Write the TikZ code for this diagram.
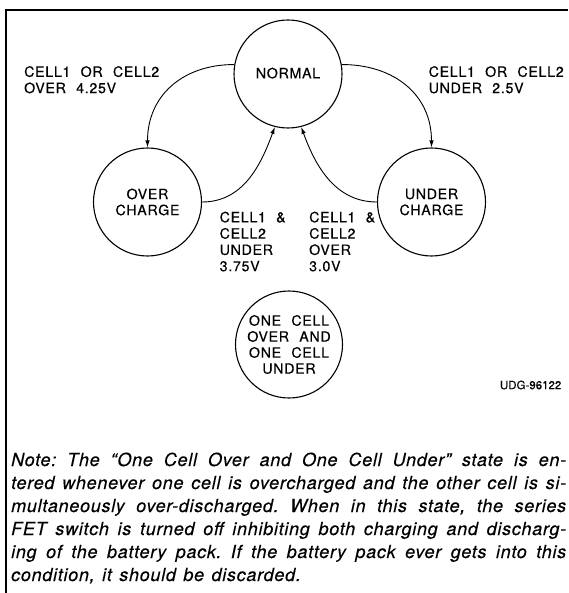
\documentclass[tikz,border=0pt]{standalone}
\usepackage{fontspec}
\setmainfont{TeX Gyre Heros}
\newfontfamily\labfont[LetterSpace=5,WordSpace=2.2,FakeBold=0.4]{TeX Gyre Heros}
\newfontfamily\notefont[LetterSpace=4,WordSpace=1.3,FakeBold=0.3]{TeX Gyre Heros}
\newfontfamily\udgfont[FakeBold=0.2]{TeX Gyre Heros}
\usetikzlibrary{arrows.meta}
\frenchspacing
\begin{document}
\begin{tikzpicture}[x=1pt,y=1pt,
  state/.style={circle,draw,line width=1.1pt,minimum size=108pt,inner sep=0pt,align=center,font=\labfont\fontsize{14.2}{16}\selectfont},
  lab/.style={align=left,inner sep=0pt,anchor=north west,font=\labfont\fontsize{14.2}{16.3}\selectfont},
  arr/.style={line width=0.9pt,-{Latex[length=7pt,width=4.5pt]}},
  noteline/.style={anchor=base west,inner sep=0pt,font=\notefont\itshape\fontsize{18}{23}\selectfont}]
\useasboundingbox (0,0) rectangle (568,-593);
\draw[line width=2.2pt] (6.3,-593) -- (6.3,-10.3) -- (568,-10.3);
\node[state] (normal) at (288,-74) {\raisebox{2pt}{NORMAL}};
\node[state] (over) at (147.5,-202) {OVER\\CHARGE};
\node[state] (under) at (431.5,-202) {UNDER\\CHARGE};
\node[state,minimum size=107pt] (both) at (289,-344.5) {ONE CELL\\OVER AND\\ONE CELL\\UNDER};
\draw[arr] (normal.170) to[out=180,in=90,looseness=1.1] (over.north);
\draw[arr] (normal.10) to[out=0,in=90,looseness=1.1] (under.north);
\draw[arr] (over.east) to[out=0,in=250] (normal.256);
\draw[arr] (under.west) to[out=180,in=290] (normal.284);
\node[lab] (l1) at (24,-66) {CELL1 OR CELL2\\OVER 4.25V};
\node[lab] (l2) at (428.5,-66) {CELL1 OR CELL2\\UNDER 2.5V};
\node[lab] (l3) at (219.5,-211.5) {CELL1 \&\\CELL2\\UNDER\\3.75V};
\node[lab] (l4) at (309,-211.5) {CELL1 \&\\CELL2\\OVER\\3.0V};
\node[anchor=east,font=\udgfont\fontsize{11.5}{14}\selectfont,inner sep=0pt] (udg) at (561.5,-385) {UDG-96122};
\node[noteline] (n1) at (11,-466) {\makebox[555pt][s]{Note: The “One Cell Over and One Cell Under” state is en-}};
\node[noteline] (n2) at (11,-489) {\makebox[555pt][s]{tered whenever one cell is overcharged and the other cell is si-}};
\node[noteline] (n3) at (11,-512) {\makebox[555pt][s]{multaneously over-discharged. When in this state, the series}};
\node[noteline] (n4) at (11,-535) {\makebox[555pt][s]{FET switch is turned off inhibiting both charging and discharg-}};
\node[noteline] (n5) at (11,-558) {\makebox[555pt][s]{ing of the battery pack. If the battery pack ever gets into this}};
\node[noteline] (n6) at (11,-581) {condition, it should be discarded.};
\end{tikzpicture}
\end{document}
